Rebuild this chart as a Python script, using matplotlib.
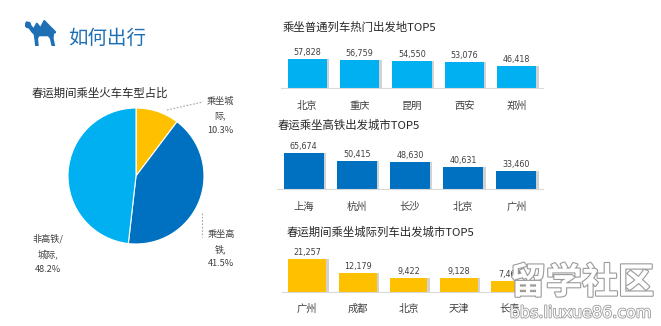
import matplotlib

matplotlib.use("Agg")
import matplotlib.pyplot as plt
import matplotlib.patheffects as pe
from matplotlib.patches import Polygon

plt.rcParams["font.family"] = ["Noto Sans CJK SC", "DejaVu Sans"]

W, H = 661, 326

# train type share
pie_labels = ["乘坐城\n际,\n10.3%", "乘坐高\n铁,\n41.5%", "非高铁/\n城际,\n48.2%"]
pie_values = [10.3, 41.5, 48.2]
pie_colors = ["#FFC000", "#0070C0", "#00B0F0"]

# top-5 departure cities
normal_cities = ["北京", "重庆", "昆明", "西安", "郑州"]
normal_values = [57828, 56759, 54550, 53076, 46418]

hsr_cities = ["上海", "杭州", "长沙", "北京", "广州"]
hsr_values = [65674, 50415, 48630, 40631, 33460]

intercity_cities = ["广州", "成都", "北京", "天津", "长春"]
intercity_values = [21257, 12179, 9422, 9128, 7468]

TEXT = "#404040"


def px_axes(fig, x0, y0, x1, y1):
    """axes from pixel box, y measured from the top"""
    return fig.add_axes([x0 / W, 1 - y1 / H, (x1 - x0) / W, (y1 - y0) / H])


def bar_panel(fig, box, cats, vals, color, ylim, title, title_xy):
    ax = px_axes(fig, *box)
    x = list(range(len(cats)))
    # thin grey drop shadow on the right of each bar
    ax.bar([i + 0.045 for i in x], vals, width=0.75, color="#d2d2d2", zorder=1)
    ax.bar(x, vals, width=0.75, color=color, zorder=2)
    for i, v in zip(x, vals):
        ax.annotate(f"{v:,}", (i, v), xytext=(0, 1.5), textcoords="offset points",
                    ha="center", va="bottom", fontsize=5.8, color=TEXT,
                    family="DejaVu Sans", annotation_clip=False)
    ax.set_xlim(-0.5, len(cats) - 0.5)
    ax.set_ylim(*ylim)
    ax.set_xticks(x)
    ax.set_xticklabels(cats, fontsize=7.4, color=TEXT)
    ax.tick_params(axis="x", length=0, pad=9)
    ax.set_yticks([])
    for s in ["top", "left", "right"]:
        ax.spines[s].set_visible(False)
    ax.spines["bottom"].set_color("#d9d9d9")
    ax.spines["bottom"].set_linewidth(0.8)
    ax.patch.set_alpha(0)
    fig.text(title_xy[0] / W, 1 - title_xy[1] / H, title, fontsize=8.2,
             color="#262626", va="center", ha="left")
    return ax


fig = plt.figure(figsize=(W / 100, H / 100), dpi=100)
fig.patch.set_facecolor("white")

# header with camel icon
icon = px_axes(fig, 25, 20, 56, 46)
icon.axis("off")
icon.set_xlim(0, 1)
icon.set_ylim(0, 1)
camel = [(0.00, 0.80), (0.05, 0.92), (0.15, 0.90), (0.20, 0.76), (0.28, 0.66),
         (0.38, 0.88), (0.50, 0.70), (0.62, 0.98), (0.80, 0.76), (0.92, 0.62),
         (1.00, 0.52), (0.92, 0.50), (0.90, 0.30), (0.95, 0.00), (0.88, 0.00),
         (0.82, 0.30), (0.75, 0.40), (0.45, 0.40), (0.40, 0.30), (0.42, 0.00),
         (0.35, 0.00), (0.32, 0.30), (0.30, 0.45), (0.22, 0.55), (0.13, 0.70),
         (0.05, 0.72)]
icon.add_patch(Polygon(camel, closed=True, color="#1F6FB5"))
fig.text(68 / W, 1 - 38 / H, "如何出行", fontsize=14, color="#1F6FB5", va="center")

# pie of train types
fig.text(32 / W, 1 - 93 / H, "春运期间乘坐火车车型占比", fontsize=8.2, color="#262626", va="center")
pax = px_axes(fig, 68, 108, 204, 244)
pax.pie(pie_values, colors=pie_colors, startangle=90, counterclock=False,
        wedgeprops=dict(edgecolor="white", linewidth=0.8), radius=1)
pax.set_xlim(-1, 1)
pax.set_ylim(-1, 1)
pax.set_aspect("equal")

label_pos = [(220, 116), (221, 249), (48, 254)]
for txt, (lx, ly) in zip(pie_labels, label_pos):
    fig.text(lx / W, 1 - ly / H, txt, fontsize=6.6, color=TEXT, ha="center",
             va="center", linespacing=1.75)
fig.add_artist(plt.Line2D([167 / W, 203 / W], [1 - 110 / H, 1 - 102 / H],
                          ls=(0, (1.5, 1.5)), color="#a6a6a6", lw=0.8))
fig.add_artist(plt.Line2D([202 / W, 202 / W], [1 - 213 / H, 1 - 237 / H],
                          ls=(0, (1.5, 1.5)), color="#a6a6a6", lw=0.8))

# right-hand bar panels
bar_panel(fig, (281, 52, 543, 88.3), normal_cities, normal_values, "#00B0F0",
          (10500, 10500 + 36.3 / 0.000613), "乘坐普通列车热门出发地TOP5", (283, 27))
bar_panel(fig, (277, 147, 543, 189.3), hsr_cities, hsr_values, "#0070C0",
          (1400, 1400 + 42.3 / 0.000571), "春运乘坐高铁出发城市TOP5", (278, 125))
bar_panel(fig, (282, 254, 535, 291.7), intercity_cities, intercity_values, "#FFC000",
          (837, 837 + 37.7 / 0.001616), "春运期间乘坐城际列车出发城市TOP5", (287, 232))

# site watermark
fig.text(582 / W, 1 - 283 / H, "留学社区", fontsize=26, fontweight="bold",
         color="white", ha="center", va="center",
         path_effects=[pe.withStroke(linewidth=1.6, foreground="#9a9a9a")])
fig.text(581 / W, 1 - 313 / H, "bbs.liuxue86.com", fontsize=11.5,
         color="white", ha="center", va="center", family="DejaVu Sans",
         path_effects=[pe.withStroke(linewidth=1.2, foreground="#9a9a9a")])

fig.savefig("out.png", dpi=100)
